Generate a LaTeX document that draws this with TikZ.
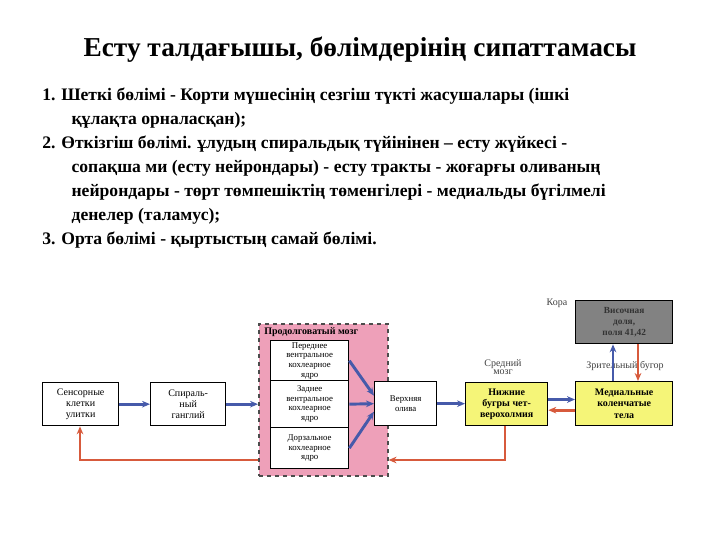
\documentclass[tikz,border=0pt]{standalone}
\usepackage{fontspec}
\setmainfont{Liberation Serif}
\usetikzlibrary{arrows.meta}
\definecolor{bl}{RGB}{70,90,170}
\definecolor{rd}{RGB}{215,90,60}
\definecolor{pk}{RGB}{238,160,185}
\definecolor{yl}{RGB}{245,245,120}
\definecolor{gr}{RGB}{130,130,130}
\begin{document}
\begin{tikzpicture}[x=0.75pt,y=-0.75pt,
  bx/.style={draw,line width=1pt,inner sep=1pt,font=\fontsize{6.6}{7.2}\selectfont,align=center,anchor=north west},
  ba/.style={-{Stealth[length=6pt,width=5pt]},bl,line width=2.2pt},
  ra/.style={-{Stealth[length=6pt,width=5pt]},rd,line width=2.2pt},
  lt/.style={font=\fontsize{7.5}{7.5}\selectfont,text=black!75}]
\useasboundingbox (0,0) rectangle (720,540);
\node[font=\bfseries\fontsize{20.5}{22}\selectfont] (title) at (360,50) {Есту талдағышы, бөлімдерінің сипаттамасы};
\node[anchor=north west,font=\bfseries\fontsize{13.2}{18}\selectfont,align=left,inner sep=0] (txt) at (42,88) {1. Шеткі бөлімі - Корти мүшесінің сезгіш түкті жасушалары (ішкі\\
\hspace*{22pt}құлақта орналасқан);\\
2. Өткізгіш бөлімі. ұлудың спиральдық түйінінен – есту жүйкесі -\\
\hspace*{22pt}сопақша ми (есту нейрондары) - есту тракты - жоғарғы оливаның\\
\hspace*{22pt}нейрондары - төрт төмпешіктің төменгілері - медиальды бүгілмелі\\
\hspace*{22pt}денелер (таламус);\\
3. Орта бөлімі - қыртыстың самай бөлімі.};
% pink region
\node[draw=black!70,dashed,line width=1.2pt,fill=pk,minimum width=129*0.75pt,minimum height=152*0.75pt,anchor=north west,inner sep=0] (pink) at (258,323) {};
\node[anchor=north west,font=\bfseries\fontsize{7.5}{8}\selectfont,inner sep=0] (plab) at (264,327) {Продолговатый мозг};
\node[bx,fill=white,minimum width=78*0.75pt,minimum height=40*0.75pt] (n1) at (270,340) {Переднее\\вентральное\\кохлеарное\\ядро};
\node[bx,fill=white,minimum width=78*0.75pt,minimum height=47*0.75pt] (n2) at (270,380) {Заднее\\вентральное\\кохлеарное\\ядро};
\node[bx,fill=white,minimum width=78*0.75pt,minimum height=41*0.75pt] (n3) at (270,427) {Дорзальное\\кохлеарное\\ядро};
\node[bx,fill=white,minimum width=62*0.75pt,minimum height=44*0.75pt] (ol) at (374,381) {Верхняя\\олива};
\node[bx,fill=white,font=\fontsize{7.5}{8.5}\selectfont,minimum width=76*0.75pt,minimum height=43*0.75pt] (sens) at (42,382) {Сенсорные\\клетки\\улитки};
\node[bx,fill=white,font=\fontsize{7.5}{8.5}\selectfont,minimum width=75*0.75pt,minimum height=43*0.75pt] (sp) at (150,382) {Спираль-\\ный\\ганглий};
\node[bx,fill=yl,font=\bfseries\fontsize{7.5}{8.5}\selectfont,minimum width=82*0.75pt,minimum height=43*0.75pt] (nb) at (465,382) {Нижние\\бугры чет-\\верохолмия};
\node[bx,fill=yl,font=\bfseries\fontsize{7.5}{8.5}\selectfont,minimum width=97*0.75pt,minimum height=44*0.75pt] (mk) at (575,381) {Медиальные\\коленчатые\\тела};
\node[bx,fill=gr,font=\bfseries\fontsize{7}{8}\selectfont,text=black!80,minimum width=97*0.75pt,minimum height=43*0.75pt] (cx) at (575,300) {Височная\\доля,\\поля 41,42};
\node[lt,anchor=east] (kora) at (572,303) {Кора};
\node[lt,align=center,font=\fontsize{7.5}{6.5}\selectfont] (sm) at (503,367) {Средний\\мозг};
\node[lt] (zb) at (625,366) {Зрительный бугор};
% arrows
\draw[ba] (sens.east) -- (sp.west);
\draw[ba] (sp.east) -- (pink.west|-sp.east);
\draw[ba] (n1.east) -- ([yshift=6pt]ol.west);
\draw[ba] (n2.east) -- (ol.west);
\draw[ba] (n3.east) -- ([yshift=-6pt]ol.west);
\draw[ba] (ol.east) -- (nb.west|-ol.east);
\draw[ba] ([yshift=3.5pt]nb.east) -- ([yshift=3.5pt]mk.west|-nb.east);
\draw[ra] ([yshift=-4.5pt]mk.west|-nb.east) -- ([yshift=-4.5pt]nb.east);
\coordinate (ct) at (613,300);
\draw[ba] (ct|-mk.north) -- (ct|-cx.south);
\coordinate (cd) at (638,300);
\draw[ra] (cd|-cx.south) -- (cd|-mk.north);
\coordinate (r1) at (505,460);
\draw[ra] (r1|-nb.south) -- (r1) -- (pink.east|-r1);
\coordinate (r2) at (80,460);
\draw[ra] (pink.west|-r2) -- (r2) -- (r2|-sens.south);
\end{tikzpicture}
\end{document}
